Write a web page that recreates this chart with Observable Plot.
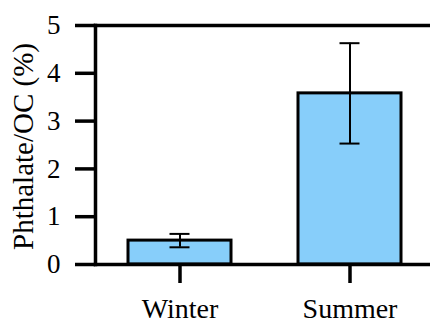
<!DOCTYPE html>
<html>
<head>
<meta charset="utf-8">
<script src="https://cdn.jsdelivr.net/npm/d3@7"></script>
<script src="https://cdn.jsdelivr.net/npm/@observablehq/plot@0.6"></script>
<style>
  html, body { margin: 0; padding: 0; background: white; }
</style>
</head>
<body>
<div id="chart"></div>
<script>
const categories = ["Winter", "Summer"];
const means = [0.50, 3.58];
const errors = [0.14, 1.05];
const yTicks = [0, 1, 2, 3, 4, 5];
const yLabel = "Phthalate/OC (%)";

const data = categories.map((c, i) => ({
  season: c,
  value: means[i],
  lo: means[i] - errors[i],
  hi: means[i] + errors[i]
}));

const FONT = "'Liberation Serif', 'Times New Roman', serif";

const chart = Plot.plot({
  width: 430,
  height: 320,
  marginLeft: 95,
  marginRight: 0,
  marginTop: 25,
  marginBottom: 56,
  style: { fontFamily: FONT, fontSize: "27px", background: "white", color: "black" },
  x: { domain: categories, range: [95, 435], paddingInner: 0.394, paddingOuter: 0.197 },
  y: { domain: [0, 5] },
  marks: [
    Plot.barY(data, { x: "season", y: "value", fill: "#87CEFA", stroke: "black", strokeWidth: 3 }),
    Plot.ruleX(data, { x: "season", y1: "lo", y2: "hi", stroke: "black", strokeWidth: 2 }),
    Plot.tickY(data, { x: "season", y: "lo", insetLeft: 41.5, insetRight: 41.5, stroke: "black", strokeWidth: 2 }),
    Plot.tickY(data, { x: "season", y: "hi", insetLeft: 41.5, insetRight: 41.5, stroke: "black", strokeWidth: 2 }),
    Plot.frame({ anchor: "left", stroke: "black", strokeWidth: 3.5 }),
    Plot.frame({ anchor: "top", stroke: "black", strokeWidth: 3.5 }),
    Plot.frame({ anchor: "bottom", stroke: "black", strokeWidth: 3.5 }),
    Plot.axisY({ ticks: yTicks, tickSize: 20, tickPadding: 15, strokeWidth: 3.5, tickFormat: d => String(d),
      fontSize: 27, label: null }),
    Plot.text([yLabel], { frameAnchor: "left", rotate: -90, dx: -72, dy: 1.5, textAnchor: "middle",
      lineAnchor: "middle", fontSize: 29, fill: "black" }),
    Plot.axisX({ tickSize: 19, tickPadding: 15, strokeWidth: 3.5, fontSize: 28, label: null })
  ]
});
document.getElementById("chart").appendChild(chart);
</script>
</body>
</html>
